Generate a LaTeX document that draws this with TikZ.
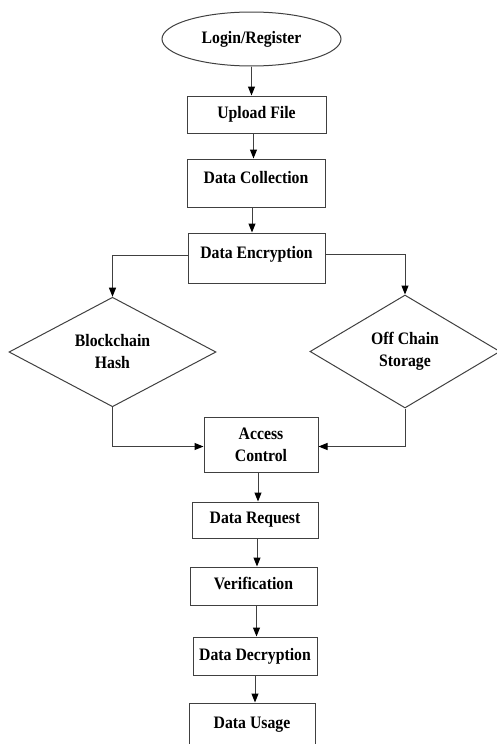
\documentclass[tikz,border=0pt]{standalone}
\usepackage{fontspec}
\setmainfont{Liberation Serif}[FakeStretch=0.9]
\usetikzlibrary{arrows.meta, shapes, positioning}

\begin{document}
\begin{tikzpicture}[x=1pt, y=-1pt,
	every node/.style={font=\bfseries\fontsize{17.5}{22}\selectfont, align=center, draw=black!75, line width=1pt, inner sep=0pt},
	start/.style={ellipse, minimum width=179pt, minimum height=54pt},
	box/.style={rectangle},
	decision/.style={diamond},
	link/.style={draw=black!75, line width=1pt},
	arrow/.style={link, -{Triangle[length=9pt, width=7pt, color=black]}}]
	\useasboundingbox (0,0) rectangle (497,744);

	\node (login) [start] at (251.5,39) {Login/Register};
	\node (upload) [box, minimum width=139pt, minimum height=37pt] at (256.5,114.5) {Upload File};
	\node (collect) [box, minimum width=138pt, minimum height=48pt, text height=12pt, text depth=12pt] at (256,183) {Data Collection};
	\node (encrypt) [box, minimum width=137pt, minimum height=50pt, text height=12pt, text depth=12pt] at (256.5,258) {Data Encryption};
	\node (hash) [decision, minimum width=207pt, minimum height=107pt] at (112.5,352) {Blockchain\\Hash};
	\node (storage) [decision, minimum width=190pt, minimum height=113pt] at (405,351.5) {Off Chain\\Storage};
	\node (access) [box, minimum width=114pt, minimum height=55pt] at (261,444.5) {Access\\Control};
	\node (request) [box, minimum width=126pt, minimum height=36pt] at (255,520) {Data Request};
	\node (verify) [box, minimum width=127pt, minimum height=38pt, text height=12pt, text depth=5pt] at (253.5,586) {Verification};
	\node (decrypt) [box, minimum width=124pt, minimum height=38pt] at (255,656) {Data Decryption};
	\node (usage) [box, minimum width=126pt, minimum height=47pt, text height=12pt, text depth=9pt] at (252,726.5) {Data Usage};

	% main line
	\draw[arrow] (login.south) -- (login.south |- upload.north);
	\draw[arrow] ([xshift=-3pt]upload.south) -- ([xshift=-3pt]upload.south |- collect.north);
	\draw[arrow] ([xshift=-4pt]collect.south) -- ([xshift=-4pt]collect.south |- encrypt.north);
	% split and merge
	\draw[arrow] ([yshift=3pt]encrypt.west) -| (hash.north);
	\draw[arrow] ([yshift=4pt]encrypt.east) -| (storage.north);
	\draw[arrow] (hash.south) |- ([yshift=-2pt]access.west);
	\draw[arrow] (storage.south) |- ([yshift=-2pt]access.east);
	% lower line
	\draw[arrow] ([xshift=-3pt]access.south) -- ([xshift=-3pt]access.south |- request.north);
	\draw[arrow] ([xshift=2pt]request.south) -- ([xshift=2pt]request.south |- verify.north);
	\draw[arrow] ([xshift=3pt]verify.south) -- ([xshift=3pt]verify.south |- decrypt.north);
	\draw[arrow] (decrypt.south) -- (decrypt.south |- usage.north);
\end{tikzpicture}
\end{document}
